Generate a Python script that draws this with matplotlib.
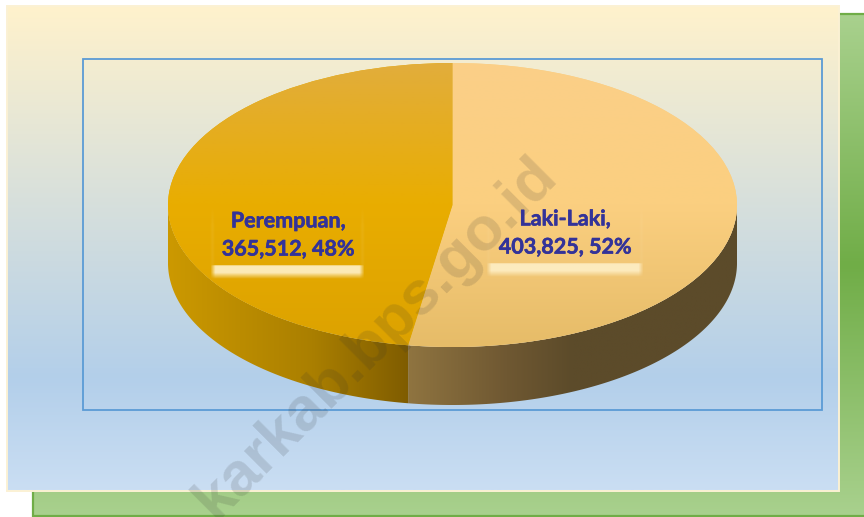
import numpy as np
import matplotlib
matplotlib.use('Agg')
import matplotlib.pyplot as plt
import matplotlib.patheffects as pe
from matplotlib.colors import LinearSegmentedColormap
from matplotlib.patches import Polygon, Rectangle

categories = ['Laki-Laki', 'Perempuan']
values = [403825, 365512]
percents = [52, 48]
watermark = 'karkab.bps.go.id'

W, H = 864, 517
TEXT = '#333399'
CREAM = (1.0, 0.95, 0.80)


def cmap(stops):
    return LinearSegmentedColormap.from_list('g', stops)


def vgrad(ax, stops, extent, **kw):
    # extent: left, right, bottom, top; colours run from top to bottom
    img = np.linspace(0, 1, 256).reshape(-1, 1)
    return ax.imshow(img, cmap=cmap(stops), extent=extent, aspect='auto',
                     origin='upper', interpolation='bilinear', **kw)


def hgrad(ax, stops, extent, **kw):
    img = np.linspace(0, 1, 256).reshape(1, -1)
    return ax.imshow(img, cmap=cmap(stops), extent=extent, aspect='auto',
                     interpolation='bilinear', **kw)


def pixel_axes(zorder):
    a = fig.add_axes([0, 0, 1, 1], zorder=zorder)
    a.set_axis_off()
    return a


def glow(ax, x0, x1, y0, y1, peak, fade_top=False):
    # soft light strip under a data label
    t = np.linspace(0, 1, 40)
    fy = np.clip((1 - t) * 2.2, 0, 1) * np.clip(t * 8 + 0.5, 0, 1)
    if fade_top:
        fy = np.clip(t * 3, 0, 1)
    u = np.linspace(0, 1, 160)
    fx = np.clip(np.minimum(u, 1 - u) * (x1 - x0) / 5, 0, 1)
    rgba = np.zeros((40, 160, 4))
    rgba[..., :3] = CREAM
    rgba[..., 3] = peak * np.outer(fy, fx)
    ax.imshow(rgba, extent=(x0, x1, y1, y0), aspect='auto', interpolation='bilinear')


fig = plt.figure(figsize=(W / 100, H / 100), dpi=100, facecolor='white')

# background panels
bg = pixel_axes(0)
vgrad(bg, ['#a9d18e', '#70ad47', '#a9d18e'], (32, W, 517, 13), zorder=1)
bg.add_patch(Rectangle((33, 14), W, 502, fill=False, ec='#70ad47', lw=1.6, zorder=2))
vgrad(bg, [(0, '#fff2cc'), (0.77, '#b3cfea'), (1, '#cadef3')], (7, 839, 490, 6), zorder=3)
bg.add_patch(Rectangle((7, 6), 832, 484.5, fill=False, ec='#fbf1d4', lw=1.4, zorder=4))
bg.add_patch(Rectangle((83, 59), 739, 351, fill=False, ec='#5b9bd5', lw=1.3, zorder=5))
bg.set_xlim(0, W)
bg.set_ylim(H, 0)

# pie: top face is an ellipse, so the pie axes is stretched
cx, cy, rx, ry, depth = 452.5, 205, 284.5, 142, 58
d = depth / ry
pie = fig.add_axes([(cx - rx) / W, 1 - (cy + ry + depth) / H, 2 * rx / W, (2 * ry + depth) / H],
                   zorder=1)
wedges, _ = pie.pie(values, startangle=90, counterclock=False, radius=1,
                    colors=['#fbcf85', '#e9ac00'])
top_stops = [
    [(0, '#fbd088'), (0.5, '#fbcf80'), (1, '#e6bc68')],
    [(0, '#e2ad3c'), (0.5, '#e9ad00'), (1, '#dca200')],
]
side_stops = [
    [(0, '#8f7440'), (0.3, '#6f5832'), (0.5, '#5c4b2a'), (1, '#5c4b2a')],
    [(0, '#cc9900'), (0.6, '#aa7f00'), (1, '#7f5c00')],
]

for w, top, side in zip(wedges, top_stops, side_stops):
    t1, t2 = w.theta1 % 360, w.theta2 % 360
    if t2 <= t1:
        t2 += 360
    a = max(t1, 180)
    b = min(t2, 360)
    t = np.radians(np.linspace(a, b, 200))
    xs, ys = np.cos(t), np.sin(t)
    poly = Polygon(np.r_[np.c_[xs, ys], np.c_[xs[::-1], ys[::-1] - d]], closed=True,
                   fc='none', ec='none', transform=pie.transData)
    pie.add_patch(poly)
    im = hgrad(pie, side, (xs.min(), xs.max(), -1 - d, 0), zorder=2)
    im.set_clip_path(poly)
    w.set_zorder(3)
    im = vgrad(pie, top, (-1, 1, -1, 1), zorder=4)
    im.set_clip_path(w)

pie.set_aspect('auto')
pie.set_xlim(-1, 1)
pie.set_ylim(-1 - d, 1)
pie.set_axis_off()

# labels and watermark on top
over = pixel_axes(2)
over.text(376, 338, watermark, family='Liberation Sans', weight='bold', fontsize=44,
          rotation=45, rotation_mode='anchor', ha='center', va='center',
          color='#303030', alpha=0.15, clip_on=True)

label_pos = [(565, 233), (288, 235)]
boxes = [(490, 640, 205, 263), (214, 361, 208, 265)]
peaks = [0.85, 0.9]
for name, val, pct, (tx, ty), (x0, x1, y0, y1), pk in zip(categories, values, percents,
                                                          label_pos, boxes, peaks):
    glow(over, x0 - 4, x1 + 4, y1, y1 + 14, pk)
    glow(over, x0 - 4, x0 + 1, y0 - 3, y1, 0.16, fade_top=True)
    glow(over, x1 - 1, x1 + 4, y0 - 3, y1, 0.16, fade_top=True)
    over.text(tx, ty, f'{name},\n{val:,}, {pct}%', family='Lato', weight='bold', fontsize=15.5,
              color=TEXT, ha='center', va='center', linespacing=1.42,
              path_effects=[pe.withStroke(linewidth=0.4, foreground=TEXT)])
over.set_xlim(0, W)
over.set_ylim(H, 0)

fig.savefig('out.png', dpi=100)
